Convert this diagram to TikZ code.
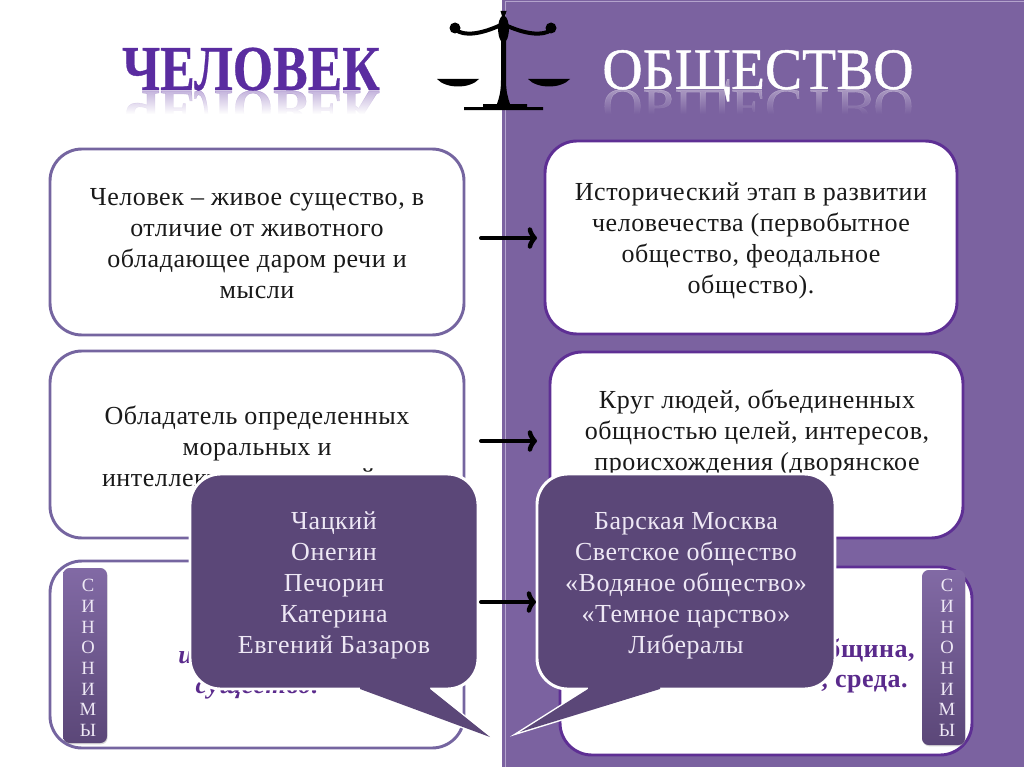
\documentclass[tikz,border=0pt]{standalone}
\usepackage{fontspec}
\setmainfont{Liberation Serif}
\usetikzlibrary{arrows.meta, fadings, shadows}
\newcommand{\bodyfont}{\fontsize{19.5}{23.25}\selectfont\addfontfeature{LetterSpace=2.2}}
\newcommand{\sidefont}{\fontsize{14}{15.5}\selectfont}
\newcommand{\pxu}{0.75pt}
\definecolor{panelviolet}{HTML}{7B62A0}
\definecolor{panelline}{HTML}{B3A3CC}
\definecolor{menedge}{HTML}{7565A0}
\definecolor{socedge}{HTML}{5E2F94}
\definecolor{calloutfill}{HTML}{5B4778}
\definecolor{calloutink}{HTML}{EEE8F5}
\definecolor{titleviolet}{HTML}{5A2CA0}
\definecolor{boldviolet}{HTML}{5A2A8C}
\tikzset{
    boxsize/.style 2 args={minimum width=#1*\pxu, minimum height=#2*\pxu},
    menbox/.style={draw=menedge, line width=2.2pt, fill=white, rounded corners=24pt, outer sep=0pt},
    socbox/.style={draw=socedge, line width=2.2pt, fill=white, rounded corners=24pt, outer sep=0pt},
    bodytext/.style={font=\bodyfont, align=center, text=black!90, inner sep=0pt},
    boldtext/.style={font=\bodyfont\bfseries, text=boldviolet, inner sep=0pt},
    calloutbox/.style={draw=white, line width=2.2pt, fill=calloutfill, rounded corners=23pt, outer sep=0pt},
    callouttext/.style={font=\bodyfont, align=center, text=calloutink, inner sep=0pt},
    sidebar/.style={rounded corners=5pt, top color=panelviolet!95!white, bottom color=calloutfill,
        outer sep=0pt, inner sep=0pt, drop shadow={shadow xshift=0.5pt, shadow yshift=-1pt, opacity=0.3}},
    sidetext/.style={font=\sidefont, align=center, text=calloutink, inner sep=0pt},
    flowarrow/.style={line width=3pt, black, line cap=round, -{Classical TikZ Rightarrow[length=7pt, width=16pt, line width=3.4pt]}}
}
\begin{document}
\begin{tikzpicture}[x=\pxu, y=-\pxu]
    \useasboundingbox (0,0) rectangle (1024,767);
    \fill[white] (0,0) rectangle (1024,767);

    % Right half
    \fill[panelviolet] (502,0) rectangle (1024,767);
    \draw[panelline, line width=0.8pt] (1030,1.5) -- (505.5,1.5) -- (505.5,767);

    % Titles with their reflections
    \node[anchor=base, font=\fontsize{48}{48}\selectfont\bfseries\addfontfeature{FakeBold=0.5}, text=titleviolet, opacity=0.35, xscale=0.81, yscale=-0.85, transform shape] (menmirror) at (251,91) {ЧЕЛОВЕК};
    \fill[white, path fading=north] (110,91) rectangle (400,114);
    \fill[white] (110,113.5) rectangle (400,135);
    \node[anchor=base, font=\fontsize{48}{48}\selectfont\bfseries\addfontfeature{FakeBold=0.5}, text=titleviolet, xscale=0.81, transform shape] (mentitle) at (251,90) {ЧЕЛОВЕК};
    \node[anchor=base, font=\fontsize{44}{44}\selectfont\addfontfeature{FakeBold=0.8}, text=white, opacity=0.35, xscale=0.95, yscale=-0.85, transform shape] (socmirror) at (758,90) {ОБЩЕСТВО};
    \fill[panelviolet, path fading=north] (595,90) rectangle (925,114);
    \fill[panelviolet] (595,113.5) rectangle (925,135);
    \node[anchor=base, font=\fontsize{44}{44}\selectfont\addfontfeature{FakeBold=0.8}, text=white, xscale=0.95, transform shape] (soctitle) at (758,89) {ОБЩЕСТВО};

    % Balance scale
    \fill[black] (500.5,11) -- (506.5,11) -- (505,16) .. controls (510,20) and (510,36) .. (506,41) -- (506,80)
        .. controls (506,92) and (508,98) .. (510,104) -- (527,104) -- (527,107) -- (543,107) -- (543,110)
        -- (464,110) -- (464,107) -- (483,107) -- (483,104) -- (497,104)
        .. controls (499,98) and (501,92) .. (501,80) -- (501,41) .. controls (497,36) and (497,20) .. (502,16) -- cycle;
    \draw[black, line width=3pt] (456,30) .. controls (464,36) and (480,35) .. (503,24) .. controls (526,35) and (543,36) .. (551,30);
    \fill[black] (455,28) circle (5.5) (551,28) circle (5.5);
    \fill[black] (437,79) -- (479,79) .. controls (470,89) and (446,89) .. cycle;
    \fill[black] (528,79) -- (570,79) .. controls (561,89) and (537,89) .. cycle;

    % Left column
    \node[menbox, boxsize={414}{186}] (menone) at (257,242) {};
    \node[menbox, boxsize={414}{187}] (mentwo) at (257,444.5) {};
    \node[menbox, boxsize={414}{187}] (menthree) at (257,654.5) {};
    \node[bodytext] (mentextone) at (257,244) {Человек – живое существо, в\\отличие от животного\\обладающее даром речи и\\мысли};
    \node[bodytext] (mentexttwo) at (257,449) {Обладатель определенных\\моральных и\\интеллектуальных свойств};
    \node[boldtext, font=\bodyfont\bfseries\itshape, anchor=base west] (menwordone) at (178,663) {индивид,};
    \node[boldtext, font=\bodyfont\bfseries\itshape, anchor=base] (menwordtwo) at (257,693) {существо.};

    % Right column
    \node[socbox, boxsize={412}{193}] (socone) at (751,237.5) {};
    \node[socbox, boxsize={413}{186}] (soctwo) at (756.5,445) {};
    \node[socbox, boxsize={412}{188}] (socthree) at (766,661) {};
    \node[bodytext] (soctextone) at (751,241) {Исторический этап в развитии\\человечества (первобытное\\общество, феодальное\\общество).};
    \node[bodytext] (soctexttwo) at (757,433) {Круг людей, объединенных\\общностью целей, интересов,\\происхождения (дворянское};
    \node[boldtext, anchor=base east] (socwordone) at (915,657) {община,};
    \node[boldtext, anchor=base east] (socwordtwo) at (908,687) {, среда.};

    % Side labels
    \node[sidebar, boxsize={44}{175}] (sideleft) at (85,655.5) {};
    \node[sidetext] (sidelefttext) at (88,658) {С\\И\\Н\\О\\Н\\И\\М\\Ы};
    \node[sidebar, boxsize={43}{175}] (sideright) at (943.5,657.5) {};
    \node[sidetext] (siderighttext) at (947,658) {С\\И\\Н\\О\\Н\\И\\М\\Ы};

    % Arrows between the columns
    \draw[flowarrow] ([shift={(17,-4)}]menone.east) -- ([shift={(-8,0.5)}]socone.west);
    \draw[flowarrow] ([shift={(17,-3.5)}]mentwo.east) -- ([shift={(-13,-4)}]soctwo.west);

    % Callouts with their tails
    \coordinate (mentip) at (490,737);
    \coordinate (soctip) at (520,732);
    \draw[white, line width=2.2pt, miter limit=20] (360,689) -- (mentip) -- (430,689) -- cycle;
    \draw[white, line width=2.2pt, miter limit=20] (588,689) -- (soctip) -- (660,689) -- cycle;
    \node[calloutbox, boxsize={288}{215}] (calloutmen) at (334,581.5) {};
    \node[calloutbox, boxsize={298}{215}] (calloutsoc) at (686,581.5) {};
    \node[callouttext] (calloutmentext) at (334,585.5) {Чацкий\\Онегин\\Печорин\\Катерина\\Евгений Базаров};
    \node[callouttext] (calloutsoctext) at (686,585.5) {Барская Москва\\Светское общество\\«Водяное общество»\\«Темное царство»\\Либералы};
    \fill[calloutfill] (360,684) -- (360,689) -- (mentip) -- (430,689) -- (430,684) -- cycle;
    \fill[calloutfill] (588,684) -- (588,689) -- (soctip) -- (660,689) -- (660,684) -- cycle;
    \draw[flowarrow] ([shift={(3,20.5)}]calloutmen.east) -- ([shift={(-1,20.5)}]calloutsoc.west);
\end{tikzpicture}
\end{document}
